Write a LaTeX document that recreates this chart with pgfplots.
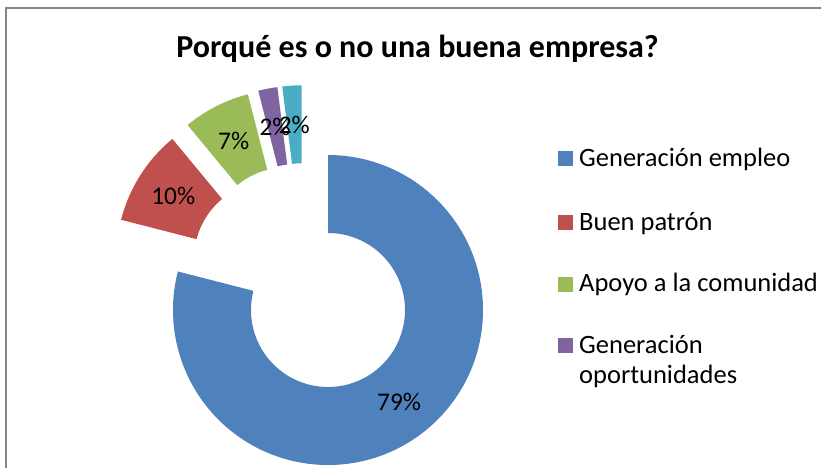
\documentclass[border=0pt]{standalone}
\usepackage{pgfplots}
\pgfplotsset{compat=1.18}
\usepackage{pgfplotstable}
\usepackage{fontspec}
\setmainfont{Carlito}

\definecolor{sl0}{HTML}{4F81BD}
\definecolor{sl1}{HTML}{C0504D}
\definecolor{sl2}{HTML}{9BBB59}
\definecolor{sl3}{HTML}{8064A2}
\definecolor{sl4}{HTML}{4BACC6}
\definecolor{frame}{HTML}{868686}

% shares of each answer (percent), in drawing order (clockwise from 12 o'clock)
\pgfplotstableread{
value
79
10
7
2
2
}\piedata

\def\cx{304.1}\def\cy{188.8}% donut centre (axis units = bp)
\def\ex{39}% explosion distance
\def\Ro{155}\def\Ri{77}% outer / inner radius

\newcommand\lbl[1]{\fontsize{25.4bp}{30bp}\selectfont #1}
\newcommand\leg[1]{\fontsize{26.5bp}{31bp}\selectfont #1}

\begin{document}
\begin{tikzpicture}
\path[use as bounding box, clip] (0,0) rectangle (821bp,468bp);
\gdef\cum{0}
\foreach \i in {0,1,2,3,4}{%
  \pgfplotstablegetelem{\i}{value}\of\piedata
  \let\v\pgfplotsretval
  \pgfmathsetmacro\s{90-3.6*\cum}%
  \pgfmathsetmacro\t{90-3.6*(\cum+\v)}%
  \pgfmathsetmacro\m{(\s+\t)/2}%
  \pgfmathsetmacro\ox{\cx+\ex*cos(\m)}%
  \pgfmathsetmacro\oy{\cy+\ex*sin(\m)}%
  \pgfmathsetmacro\ax{\ox+\Ro*cos(\s)}%
  \pgfmathsetmacro\ay{\oy+\Ro*sin(\s)}%
  \pgfmathsetmacro\bx{\ox+\Ri*cos(\t)}%
  \pgfmathsetmacro\by{\oy+\Ri*sin(\t)}%
  \pgfmathsetmacro\lx{\ox+(\Ro+\Ri)/2*cos(\m)}%
  \pgfmathsetmacro\ly{\oy+(\Ro+\Ri)/2*sin(\m)}%
  \expandafter\xdef\csname S\i\endcsname{\s}%
  \expandafter\xdef\csname T\i\endcsname{\t}%
  \expandafter\xdef\csname AX\i\endcsname{\ax}%
  \expandafter\xdef\csname AY\i\endcsname{\ay}%
  \expandafter\xdef\csname BX\i\endcsname{\bx}%
  \expandafter\xdef\csname BY\i\endcsname{\by}%
  \expandafter\xdef\csname LX\i\endcsname{\lx}%
  \expandafter\xdef\csname LY\i\endcsname{\ly}%
  \expandafter\xdef\csname V\i\endcsname{\v}%
  \pgfmathsetmacro\nc{\cum+\v}%
  \xdef\cum{\nc}%
}
\begin{axis}[
  at={(0,0)}, anchor=south west,
  x=1bp, y=1bp,
  xmin=0, xmax=821, ymin=0, ymax=468,
  hide axis, clip=false,
]
% chart frame
\draw[frame, line width=2bp] (axis cs:6,-20) -- (axis cs:6,459.5) -- (axis cs:840,459.5);
% slices
\pgfplotsinvokeforeach{0,1,2,3,4}{
  \fill[sl#1] (axis cs:\csname AX#1\endcsname,\csname AY#1\endcsname)
     arc[start angle=\csname S#1\endcsname, end angle=\csname T#1\endcsname, radius=\Ro bp]
     -- (axis cs:\csname BX#1\endcsname,\csname BY#1\endcsname)
     arc[start angle=\csname T#1\endcsname, end angle=\csname S#1\endcsname, radius=\Ri bp]
     -- cycle;
}
\pgfplotsinvokeforeach{0,1,2,3,4}{
  \node[black, inner sep=0pt] at (axis cs:\csname LX#1\endcsname,\csname LY#1\endcsname)
     {\lbl{\csname V#1\endcsname\%}};
}
% title
\node[anchor=base, inner sep=0pt] at (axis cs:417.5,410)
  {\fontsize{32bp}{38bp}\selectfont\bfseries Porqué es o no una buena empresa?};
% legend
\fill[sl0] (axis cs:558,302) rectangle (axis cs:573,317);
\fill[sl1] (axis cs:558,238) rectangle (axis cs:573,253);
\fill[sl2] (axis cs:558,176.3) rectangle (axis cs:573,191.3);
\fill[sl3] (axis cs:558,115) rectangle (axis cs:573,130);
\node[anchor=base west, inner sep=0pt] at (axis cs:579,302) {\leg{Generación empleo}};
\node[anchor=base west, inner sep=0pt] at (axis cs:579,238) {\leg{Buen patrón}};
\node[anchor=base west, inner sep=0pt] at (axis cs:579,176.3) {\leg{Apoyo a la comunidad}};
\node[anchor=base west, inner sep=0pt] at (axis cs:579,115) {\leg{Generación}};
\node[anchor=base west, inner sep=0pt] at (axis cs:579,85) {\leg{oportunidades}};
\end{axis}
\end{tikzpicture}
\end{document}
